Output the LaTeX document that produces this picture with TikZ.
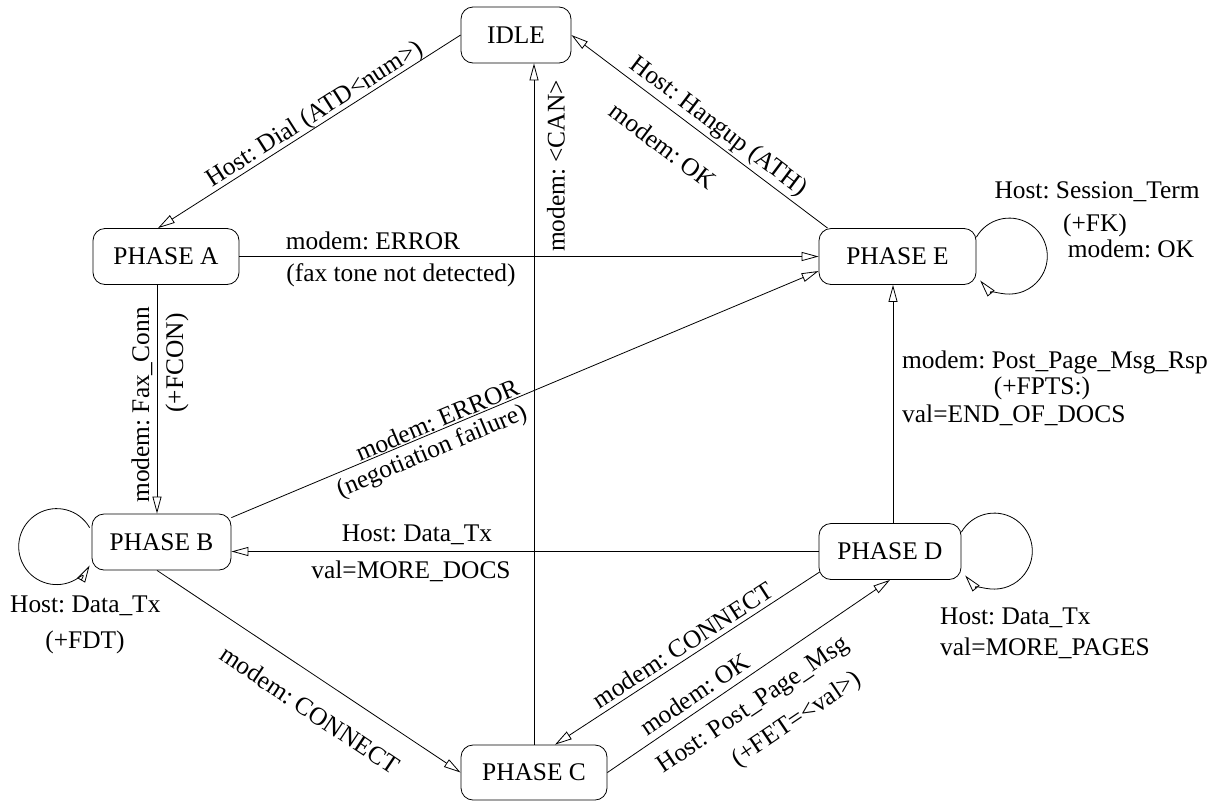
\documentclass[tikz,border=0pt]{standalone}
\usepackage{fontspec}
\setmainfont{Liberation Serif}
\usetikzlibrary{arrows.meta}
\frenchspacing
\begin{document}
\begin{tikzpicture}[x=1pt,y=-1pt,
  font=\fontsize{25.4}{30}\selectfont,
  state/.style={draw, rounded corners=12pt, minimum height=56pt, inner sep=0pt, line width=0.8pt},
  lbl/.style={inner sep=0pt},
  tr/.style={-{Triangle[open,length=17pt,width=9pt,line width=0.8pt]}, line width=0.8pt}]
\useasboundingbox (0,0) rectangle (1223,801);

% states
\node[state, minimum width=110pt] (IDLE) at (516,35) {IDLE};
\node[state, minimum width=146pt] (A) at (166,256.5) {PHASE A};
\node[state, minimum width=157pt] (E) at (897.5,256.5) {PHASE E};
\node[state, minimum width=139pt] (B) at (161.5,542) {PHASE B};
\node[state, minimum width=142pt] (D) at (890,551.5) {PHASE D};
\node[state, minimum width=146pt, minimum height=55pt] (C) at (534,772.5) {PHASE C};

% transitions
\draw[tr] (IDLE.west) -- ([xshift=-8pt]A.north);
\draw[tr] ([xshift=9pt]E.north west) -- (IDLE.east);
\draw[tr] (A.east) -- (E.west);
\draw[tr] ([xshift=-9pt]A.south) -- ([xshift=-9pt]A.south |- B.north);
\draw[tr] ([yshift=-4pt]B.north east) -- ([yshift=-14.5pt]E.west);
\draw[tr] (D.west) -- (D.west -| B.east);
\draw[tr] (C.north) -- (C.north |- IDLE.south);
\draw[tr] ([xshift=-4.5pt]B.south) -- (C.west);
\draw[tr] ([shift={(1pt,-20.5pt)}]D.west) -- ([xshift=21pt]C.north);
\draw[tr] (C.east) -- (D.south);
\draw[tr] ([xshift=3pt]D.north) -- ([xshift=3pt]D.north |- E.south);

% self loops
\draw[tr] ([yshift=-9pt]E.north east) arc[start angle=210, end angle=500, radius=38];
\draw[tr] ([yshift=-9pt]D.north east) arc[start angle=210, end angle=500, radius=38];
\draw[tr] ([shift={(-2pt,-14pt)}]B.north west) arc[start angle=-30, end angle=-330, radius=38];

% labels
\node[lbl, rotate=32.5] (lDial) at (315,115) {Host: Dial (ATD<num>)};
\node[lbl, rotate=-37] (lHang) at (718,127) {Host: Hangup (ATH)};
\node[lbl, rotate=-37] (lHangOK) at (663,146) {modem: OK};
\node[lbl, rotate=90] (lCan) at (556,166) {modem: <CAN>};
\node[lbl] (lErrA) at (373,241) {modem: ERROR};
\node[lbl] (lFax) at (401,275) {(fax tone not detected)};
\node[lbl, rotate=90] (lFaxConn) at (142,405) {modem: Fax\_Conn};
\node[lbl, rotate=90] (lFcon) at (177,363) {(+FCON)};
\node[lbl, rotate=22.9] (lErrB) at (437,420) {modem: ERROR};
\node[lbl, rotate=22.9] (lNeg) at (432,452) {(negotiation failure)};
\node[lbl] (lDataTx) at (417,535) {Host: Data\_Tx};
\node[lbl] (lMoreDocs) at (411,571) {val=MORE\_DOCS};
\node[lbl, rotate=-33.8] (lConnB) at (310,710) {modem: CONNECT};
\node[lbl, rotate=32.9] (lConnD) at (683,645) {modem: CONNECT};
\node[lbl, rotate=34] (lOK) at (695,694) {modem: OK};
\node[lbl, rotate=34] (lPPM) at (754,706) {Host: Post\_Page\_Msg};
\node[lbl, rotate=34] (lFet) at (797,720) {(+FET=<val>)};
\node[lbl] (lSess) at (1097,192) {Host: Session\_Term};
\node[lbl] (lFk) at (1095,225) {(+FK)};
\node[lbl] (lSessOK) at (1131,249) {modem: OK};
\node[lbl, anchor=west] (lRsp) at (902,362) {modem: Post\_Page\_Msg\_Rsp};
\node[lbl] (lFpts) at (1042,388) {(+FPTS:)};
\node[lbl, anchor=west] (lEnd) at (902,415) {val=END\_OF\_DOCS};
\node[lbl, anchor=west] (lBTx) at (10,606) {Host: Data\_Tx};
\node[lbl] (lFdt) at (85,642) {(+FDT)};
\node[lbl, anchor=west] (lDTx) at (940,618) {Host: Data\_Tx};
\node[lbl, anchor=west] (lPages) at (940,648) {val=MORE\_PAGES};
\end{tikzpicture}
\end{document}
